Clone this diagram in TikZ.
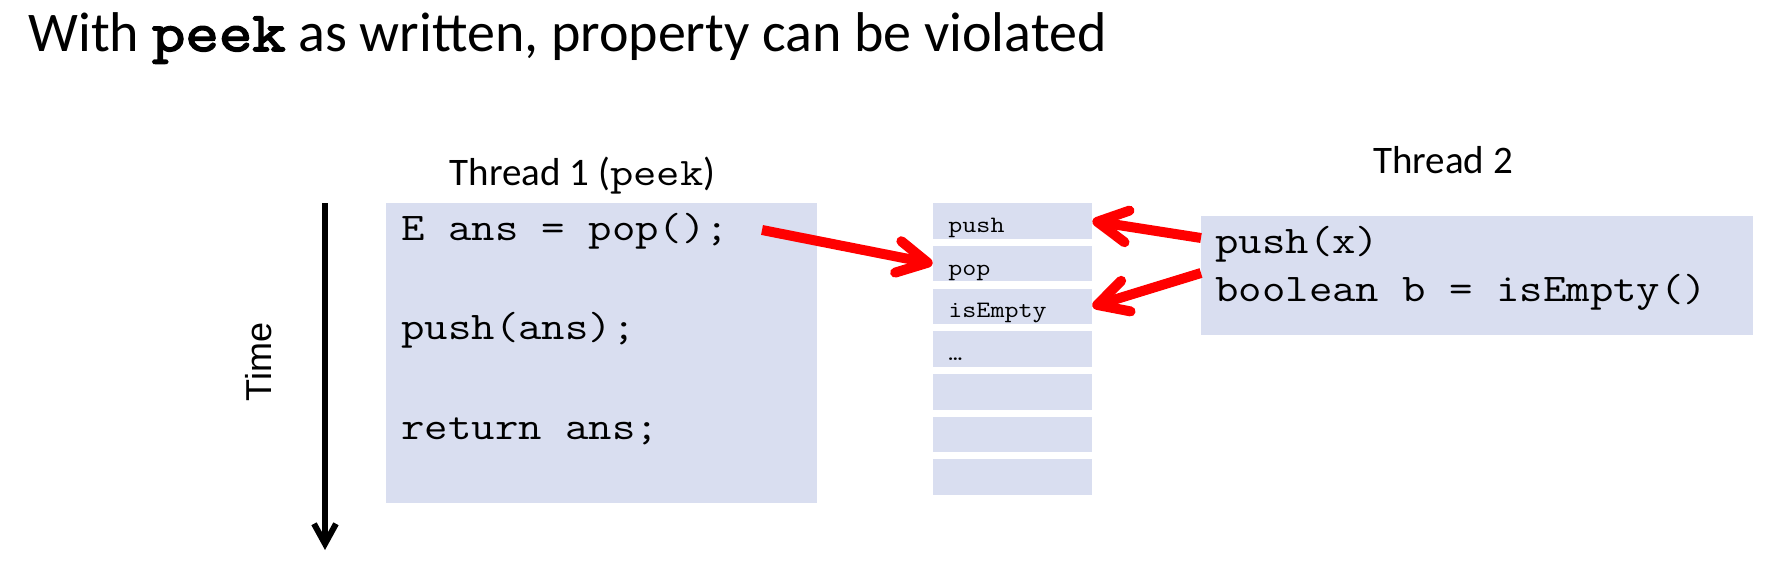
\documentclass[tikz,border=0pt]{standalone}
\usepackage{fontspec}
\setmainfont{Carlito}
\newfontfamily\codefont{Latin Modern Mono}[FakeStretch=1.16]
\newfontfamily\codebold{Latin Modern Mono}[FakeStretch=1.16,FakeBold=3]
\newfontfamily\arialfont{Liberation Sans}
\usetikzlibrary{arrows.meta,positioning}
\definecolor{boxblue}{HTML}{D9DEF0}
\definecolor{arrred}{HTML}{FF0000}

\begin{document}
\begin{tikzpicture}[x=0.5pt, y=-0.5pt,
  codebox/.style={fill=boxblue, inner sep=0pt},
  stackcell/.style={fill=boxblue, inner sep=0pt, minimum width=79.5pt, minimum height=17.75pt},
  codeline/.style={anchor=base west, inner sep=0pt, font=\codefont\fontsize{19.6pt}{23.5pt}\selectfont},
  celltext/.style={anchor=base west, inner sep=0pt, font=\codefont\fontsize{11.75pt}{14pt}\selectfont},
  threadlbl/.style={anchor=base, inner sep=0pt, font=\fontsize{19.5pt}{23pt}\selectfont},
  redarr/.style={-{Straight Barb[length=15pt,width=16pt,round]}, line width=5pt, arrred},
  timearr/.style={-{Straight Barb[length=10pt,width=11pt]}, line width=3pt},
]
  \useasboundingbox (0,0) rectangle (1774,578);

  % Title
  \node[anchor=base west, inner sep=0pt, font=\fontsize{28pt}{34pt}\selectfont] (title) at (28,51)
    {With {\codebold peek} as written, property can be violated};

  % Time axis
  \node[rotate=90, inner sep=0pt, font=\arialfont\fontsize{18pt}{21pt}\selectfont] (time) at (259,362) {Time};
  \coordinate (tstart) at (325,203);
  \coordinate (tend) at (325,550);
  \draw[timearr] (tstart) -- (tend);

  % Thread 1
  \node[threadlbl] (t1lbl) at (582.5,185) {Thread 1 ({\codefont peek})};
  \node[codebox, minimum width=215.5pt, minimum height=150pt] (t1) at (601.5,353) {};
  \node[codeline] (c1) at (401,240) {E ans = pop();};
  \node[codeline] (c2) at (401,339) {push(ans);};
  \node[codeline] (c3) at (401,439) {return ans;};

  % Stack
  \foreach \i/\txt in {0/push,1/pop,2/isEmpty,3/{…},4/{},5/{},6/{}} {
    \node[stackcell] (s\i) at (1012.5,{221+42.7*\i}) {};
    \node[celltext] (l\i) at (948,{232.5+42.7*\i}) {\txt};
  }

  % Thread 2
  \node[threadlbl] (t2lbl) at (1443,173) {Thread 2};
  \node[codebox, minimum width=276pt, minimum height=59.5pt] (t2) at (1477,275.5) {};
  \node[codeline] (d1) at (1215,253) {push(x)};
  \node[codeline] (d2) at (1215,301) {boolean b = isEmpty()};

  % Calls
  \coordinate (popfrom) at (762,230);
  \coordinate (pushfrom) at (1201,238);
  \coordinate (emptyfrom) at (1201,273);
  \draw[redarr] (popfrom) -- (s1.west);
  \draw[redarr] (pushfrom) -- (s0.east);
  \draw[redarr] (emptyfrom) -- (s2.east);
\end{tikzpicture}
\end{document}
